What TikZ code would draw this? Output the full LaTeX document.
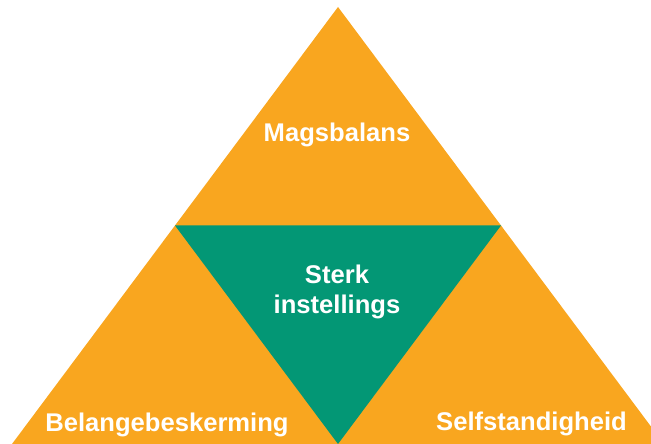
\documentclass[tikz,border=0pt]{standalone}
\usepackage{fontspec}
\setmainfont{Liberation Sans}
\usetikzlibrary{calc}
\definecolor{pyramidorange}{RGB}{249,166,31}
\definecolor{pyramidgreen}{RGB}{3,151,117}

\begin{document}
\begin{tikzpicture}[
            x=1pt, y=1pt,
            pyramid text/.style={text=white, inner sep=0pt, align=center, font=\fontsize{25.6}{30}\selectfont\bfseries}, % white bold labels
            outer part/.style={fill=pyramidorange},
            inner part/.style={fill=pyramidgreen}
        ]
        
        % frame
        \useasboundingbox (0,0) rectangle (651,444);
        \clip (0,0) rectangle (651,444);
        
        % corners of the big triangle
        \coordinate (apex) at (338,437);
        \coordinate (baseleft) at (12,0);
        \coordinate (baseright) at (664,0);
        
        % midpoints of its sides
        \coordinate (midleft) at ($(apex)!0.5!(baseleft)$);
        \coordinate (midright) at ($(apex)!0.5!(baseright)$);
        \coordinate (midbase) at ($(baseleft)!0.5!(baseright)$);
        
        % triangles
        \path[outer part] (apex) -- (baseleft) -- (baseright) -- cycle;
        \path[inner part] (midleft) -- (midright) -- (midbase) -- cycle;
        
        % labels
        \node[pyramid text, anchor=base] (magsbalans) at (337,302) {Magsbalans};
        \node[pyramid text] (sterk) at (337,152.5) {Sterk\\instellings};
        \node[pyramid text, anchor=base] (belange) at (167,12) {Belangebeskerming};
        \node[pyramid text, anchor=base] (selfstandig) at (531.5,13) {Selfstandigheid};
        
        \end{tikzpicture}
\end{document}
